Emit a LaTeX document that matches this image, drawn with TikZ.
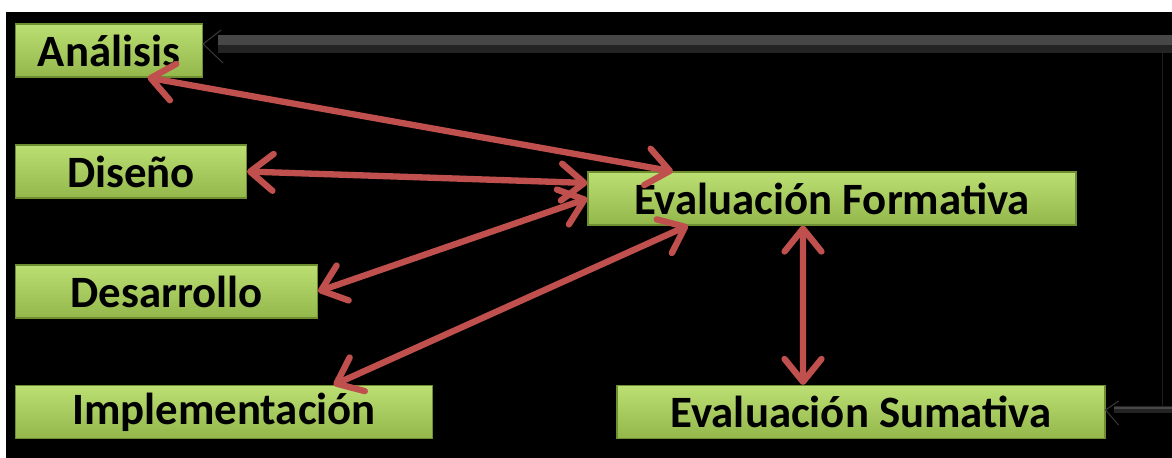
\documentclass[tikz,border=0pt]{standalone}
\usepackage{fontspec}
\setmainfont{Carlito}
\usetikzlibrary{arrows.meta}
\definecolor{faserojo}{HTML}{C0504D}
\definecolor{fasearriba}{HTML}{BCDF74}
\definecolor{faseabajo}{HTML}{93B74B}
\definecolor{faseborde}{HTML}{6F8E32}
\tikzset{
    fase/.style={draw=faseborde, line width=0.6pt, top color=fasearriba, bottom color=faseabajo,
        minimum height=1.06cm, inner sep=0pt, font=\fontsize{25.5}{30}\selectfont\bfseries},
    vuelta/.style={faserojo, line width=3.6pt, line cap=round,
        {Straight Barb[round, length=13pt, width=21pt]}-{Straight Barb[round, length=13pt, width=21pt]}},
    sombra/.style={color=black!86, line width=0.16cm},
    brillo/.style={color=black!72, line width=0.2cm},
    punta/.style={color=black!78, line width=0.6pt},
    linea/.style={color=black!88, line width=0.5pt}
}
\begin{document}
\begin{tikzpicture}
        \fill[white] (0, 0) rectangle (23.44, 9.16);
        \useasboundingbox (0, 0) rectangle (23.44, 9.16);
        \fill[black] (0.12, 0) rectangle (23.44, 8.92);

        \node[fase, anchor=west, minimum width=3.74cm] (analisis) at (0.3, 8.15) {Análisis};
        \node[fase, anchor=west, minimum width=4.62cm] (diseno) at (0.3, 5.73) {Diseño};
        \node[fase, anchor=west, minimum width=6.04cm] (desarrollo) at (0.3, 3.33) {Desarrollo};
        \node[fase, anchor=west, minimum width=8.34cm] (implementacion) at (0.3, 0.92) {Implementación};
        \node[fase, minimum width=9.76cm] (formativa) at (16.64, 5.19) {Evaluación Formativa};
        \node[fase, minimum width=9.76cm] (sumativa) at (17.22, 0.92) {Evaluación Sumativa};

        \draw[vuelta] ([xshift=0.77cm]analisis.south) -- ([xshift=-3.18cm]formativa.north);
        \draw[vuelta] (diseno.east) -- ([yshift=0.31cm]formativa.west);
        \draw[vuelta] (desarrollo.east) -- (formativa.west);
        \draw[vuelta] ([xshift=2.19cm]implementacion.north) -- ([xshift=-2.88cm]formativa.south);
        \draw[vuelta] ([xshift=-0.58cm]formativa.south) -- ([xshift=-1.16cm]sumativa.north);

        \coordinate (arriba) at (23.44, 8.28);
        \coordinate (abajo) at (23.44, 0.96);

        \draw[sombra] ([yshift=-0.1cm]arriba) -- ([xshift=0.3cm, yshift=-0.1cm]arriba -| analisis.east);
        \draw[brillo] ([yshift=0.08cm]arriba) -- ([xshift=0.3cm, yshift=0.08cm]arriba -| analisis.east);
        \draw[punta] ([xshift=0.36cm, yshift=0.28cm]arriba -| analisis.east) -- (arriba -| analisis.east)
            -- ([xshift=0.4cm, yshift=-0.38cm]arriba -| analisis.east);

        \draw[linea] ([xshift=-0.2cm, yshift=-0.18cm]arriba) -- ([xshift=-0.2cm]abajo);

        \draw[sombra, line width=0.14cm] (abajo) -- ([xshift=0.16cm]abajo -| sumativa.east);
        \draw[brillo, line width=0.05cm] ([yshift=0.04cm]abajo) -- ([xshift=0.16cm, yshift=0.04cm]abajo -| sumativa.east);
        \draw[punta] ([xshift=0.26cm, yshift=0.18cm]abajo -| sumativa.east) -- (abajo -| sumativa.east)
            -- ([xshift=0.26cm, yshift=-0.3cm]abajo -| sumativa.east);
\end{tikzpicture}
\end{document}
